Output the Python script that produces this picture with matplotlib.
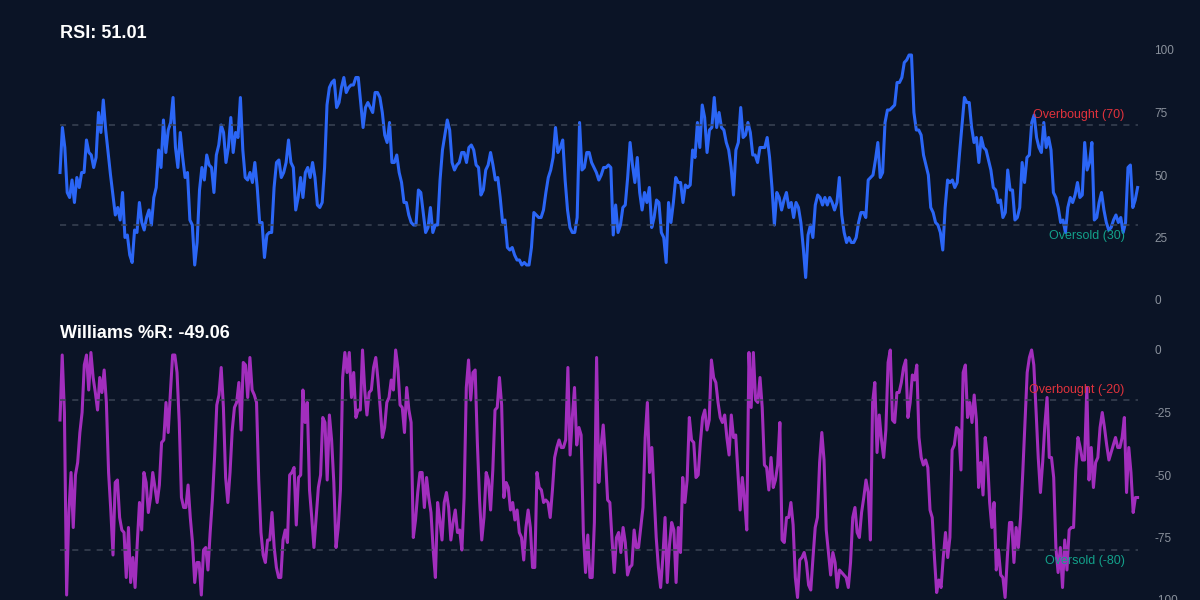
import matplotlib

matplotlib.use("Agg")
import matplotlib.pyplot as plt
import numpy as np

plt.rcParams["font.family"] = ["Liberation Sans", "DejaVu Sans"]

# RSI readings, left to right
rsi_values = [
    51, 69, 61, 43, 41, 48, 39, 49, 45, 51, 51, 64, 59, 58, 53, 57, 75, 67, 80, 68,
    59, 50, 42, 34, 37, 32, 43, 25, 26, 18, 15, 28, 27, 39, 31, 28, 33, 36, 30, 41,
    45, 60, 53, 72, 59, 68, 71, 81, 61, 53, 67, 57, 49, 51, 32, 30, 14, 23, 44, 53,
    48, 58, 54, 53, 43, 58, 62, 70, 67, 55, 61, 73, 59, 67, 65, 81, 60, 49, 48, 51,
    47, 55, 45, 31, 31, 17, 26, 27, 27, 45, 55, 56, 49, 51, 55, 64, 55, 53, 36, 41,
    49, 41, 51, 53, 49, 55,
    49, 38, 37, 39, 53, 78, 85, 87, 88, 77, 79, 85, 89, 83, 85, 86, 86, 89, 89, 79,
    69, 77, 79, 77, 75, 83, 83, 81, 75, 66, 63, 71, 55, 55, 58, 51, 47, 39, 39, 34,
    31, 30, 30, 44, 43, 35, 27, 29, 37, 27, 30, 30, 48, 60, 66, 72, 68, 55, 52, 54,
    55, 59, 59, 55, 61, 62, 60, 54, 53, 42, 44, 52, 54, 59, 54, 48, 49, 41, 31, 32,
    21, 20, 21, 18, 16, 16, 14, 15, 14, 14, 21, 35, 34, 33, 33, 36, 43, 49, 52, 57,
    69, 59, 61, 64, 48, 36, 29, 27, 27, 33, 71, 52,
    53, 59, 59, 55, 53, 51, 48, 50, 53, 53, 54, 53, 26, 38, 27, 30, 37, 38, 49, 63,
    54, 47, 57, 43, 36, 43, 39, 45, 29, 33, 40, 39, 27, 25, 15, 39, 31, 39, 49, 47,
    47, 39, 46, 45, 46, 60, 57, 71, 61, 78, 73, 59, 68, 69, 81, 69, 75, 69, 68, 63,
    60, 53, 42, 60, 63, 77, 65, 66, 71, 67, 58, 58, 55, 61, 61, 61, 65, 57, 45, 30,
    43, 41, 36, 40, 43, 37, 39, 33, 39, 37, 31, 21, 9, 26, 30, 25, 38, 42, 41, 38,
    41, 38, 41, 39, 36, 39, 49, 34, 27, 23, 25, 23, 23, 25, 31, 35, 35, 33, 48,
    49, 50, 56, 63, 49, 51, 71, 76, 76, 77, 78, 87, 87, 89, 95, 96, 98, 98, 75, 68,
    68, 66, 58, 54, 50, 37, 35, 31, 30, 27, 20, 37, 48, 47, 48, 45, 47, 59, 70, 81,
    79, 79, 69, 63, 65, 55, 65, 61, 60, 56, 52, 45, 44, 39, 40, 33, 35, 52, 44, 44,
    32, 33, 37, 55, 47, 57, 58, 71, 74, 65, 61, 59, 71, 61, 65, 60, 43, 41, 37, 31,
    32, 27, 37, 41, 39, 42, 47, 41, 42, 63, 52, 55, 63, 32, 33, 39, 43, 36, 31, 28,
    29, 32, 34, 31, 33, 27, 31, 53, 54, 37, 40, 45,
]

# Williams %R readings, left to right
wr_values = [
    -28, -2, -25, -98, -65, -49, -71, -50, -45, -33, -25, -6, -2, -16, -1, -11, -17, -24, -11, -17,
    -8, -21, -49, -64, -82, -53, -52, -67, -72, -73, -91, -71, -93, -83, -95, -77, -61, -72, -49, -53,
    -65, -59, -49, -55, -61, -54, -37, -36, -21, -33, -17, -2, -2, -9, -29, -59, -63, -63, -54, -67,
    -77, -93, -85, -85, -98, -80, -79, -88, -73, -60, -43, -22, -18, -7, -23, -51, -61, -49, -32, -23,
    -21, -13, -32, -5, -6, -19, -3, -16, -18, -21, -52, -73, -82, -85, -76, -76, -65, -79, -87, -91,
    -91, -76, -72, -77, -50, -49, -47, -70, -51, -50, -16, -29, -21, -56, -67, -79, -67, -55, -50, -27,
    -29, -52, -26,
    -36, -53, -79, -71, -56, -11, -1, -9, -1, -19, -9, -27, -24, -24, 0, -16, -26, -17, -16, -7,
    -3, -12, -23, -35, -31, -21, -19, -12, -16, 0, -7, -22, -23, -33, -15, -24, -29, -75, -68, -57,
    -49, -49, -63, -51, -59, -65, -80, -91, -61, -68, -76, -61, -57, -63, -76, -69, -64, -73, -72, -80,
    -59, -15, -4, -20, -9, -8, -37, -60, -76, -67, -49, -52, -64, -48, -24, -23, -11, -22, -59, -53,
    -55, -64, -61, -68, -64, -73, -75, -84, -71, -64, -71, -87, -87, -49, -55, -56, -61, -60, -61, -67,
    -56, -43, -39, -36, -39, -39, -36, -7, -42, -27, -15, -38, -31, -34, -73, -89, -74, -91, -91, -69,
    -3,
    -53, -39, -30, -43, -60, -61, -76, -89, -75, -73, -81, -71, -77, -90, -87, -86, -72, -79, -79, -71,
    -63, -35, -21, -49, -39, -57, -75, -87, -95, -83, -67, -93, -78, -69, -72, -93, -71, -81, -51, -61,
    -52, -27, -36, -37, -51, -50, -37, -27, -24, -32, -28, -4, -11, -13, -21, -27, -29, -26, -35, -42,
    -26, -35, -34, -49, -64, -51, -60, -72, -1, -23, -1, -20, -21, -11, -23, -46, -47, -56, -43, -55,
    -52, -46, -29, -76, -77, -67, -67, -61, -70, -91, -99, -84, -83, -81, -85, -94, -96, -83, -71, -67,
    -45, -33, -44, -72, -81, -90, -81, -85, -95, -88, -89, -90, -91, -95, -85, -67, -63, -73, -75, -65,
    -59, -52, -57, -76, -21,
    -13, -41, -26, -36, -43, -32, -5, 0, -28, -29, -17, -17, -13, -7, -4, -27, -21, -10, -12, -6,
    -35, -43, -46, -44, -47, -64, -67, -83, -97, -92, -95, -83, -73, -83, -75, -40, -38, -31, -32, -48,
    -9, -6, -27, -21, -29, -18, -28, -55, -45, -58, -35, -43, -61, -71, -61, -88, -80, -90, -91, -99,
    -83, -69, -69, -85, -71, -79, -67, -49, -29, -9, -3, 0, -6, -24, -43, -57, -45, -30, -19, -43,
    -43, -51, -79, -89, -79, -95, -76, -88, -72, -71, -71, -48, -35, -39, -44, -44, -15, -52, -39, -55,
    -45, -43, -31, -25, -31, -38, -44, -41, -38, -35, -39, -39, -35, -27, -57, -39, -49, -65, -59, -59,
]

rsi_title = "RSI: 51.01"
wr_title = "Williams %R: -49.06"
rsi_ticks = [0, 25, 50, 75, 100]
wr_ticks = [-100, -75, -50, -25, 0]

BG = "#0b1426"
GRID = "#3a4354"
TICK = "#8a919c"
RED = "#e0323c"
TEAL = "#13a08a"

fig = plt.figure(figsize=(12, 6), dpi=100, facecolor=BG)
ax_rsi = fig.add_axes([0.05, 0.5, 0.898, 250 / 600])
ax_wr = fig.add_axes([0.05, 0.0, 0.898, 250 / 600])


def style_axis(ax, ticks, lim):
    ax.set_facecolor(BG)
    for spine in ax.spines.values():
        spine.set_visible(False)
    ax.set_ylim(*lim)
    ax.set_xticks([])
    ax.yaxis.tick_right()
    ax.set_yticks(ticks)
    ax.set_yticklabels([str(t) for t in ticks])
    ax.tick_params(axis="y", length=0, pad=12, labelsize=8.5, labelcolor=TICK)


x_rsi = np.arange(len(rsi_values))
ax_rsi.plot(x_rsi, rsi_values, color="#2b66f6", lw=2.2, clip_on=False)
ax_rsi.set_xlim(0, len(rsi_values) - 1)
style_axis(ax_rsi, rsi_ticks, (0, 100))
for level in (70, 30):
    ax_rsi.axhline(level, color=GRID, ls=(0, (4, 4)), lw=1.1)
ax_rsi.text(0.988, 71.5, "Overbought (70)", transform=ax_rsi.get_yaxis_transform(),
            ha="right", va="bottom", color=RED, fontsize=9)
ax_rsi.text(0.988, 28, "Oversold (30)", transform=ax_rsi.get_yaxis_transform(),
            ha="right", va="top", color=TEAL, fontsize=9)

x_wr = np.arange(len(wr_values))
ax_wr.plot(x_wr, wr_values, color="#a22ebd", lw=2.2, clip_on=False)
ax_wr.set_xlim(0, len(wr_values) - 1)
style_axis(ax_wr, wr_ticks, (-100, 0))
for level in (-20, -80):
    ax_wr.axhline(level, color=GRID, ls=(0, (4, 4)), lw=1.1)
ax_wr.text(0.988, -18.5, "Overbought (-20)", transform=ax_wr.get_yaxis_transform(),
           ha="right", va="bottom", color=RED, fontsize=9)
ax_wr.text(0.988, -82, "Oversold (-80)", transform=ax_wr.get_yaxis_transform(),
           ha="right", va="top", color=TEAL, fontsize=9)

fig.text(0.05, 1 - 33 / 600, rsi_title, color="white", fontsize=13, weight="bold", va="center")
fig.text(0.05, 1 - 333 / 600, wr_title, color="white", fontsize=13, weight="bold", va="center")

fig.savefig("out.png", dpi=100, facecolor=BG)
plt.close(fig)
